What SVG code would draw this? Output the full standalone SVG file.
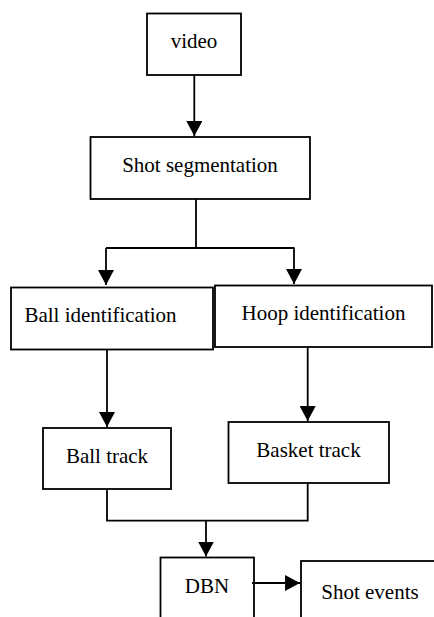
<svg xmlns="http://www.w3.org/2000/svg" width="434" height="617" viewBox="0 0 434 617">
<style>
.box{fill:#fff;stroke:#000;stroke-width:1.8}
.lbl{font-family:"Liberation Serif","Times New Roman",serif;font-size:21px;fill:#000;text-anchor:middle}
.con{fill:none;stroke:#000;stroke-width:1.8}
</style>
<defs>
<marker id="ah" markerUnits="userSpaceOnUse" markerWidth="15" markerHeight="16" viewBox="0 0 14 15" refX="14" refY="7.5" orient="auto">
<path d="M0,0 L14,7.5 L0,15 z" fill="#000"/>
</marker>
</defs>
<rect width="434" height="617" fill="#fff"/>
<g id="video"><rect class="box" x="147" y="13.5" width="94" height="61.5"/><text class="lbl" x="194" y="48">video</text></g>
<g id="shotseg"><rect class="box" x="90.5" y="137" width="219.5" height="62"/><text class="lbl" x="200" y="172">Shot segmentation</text></g>
<g id="ballid"><rect class="box" x="11" y="287.5" width="202" height="62"/><text class="lbl" x="100.5" y="322">Ball identification</text></g>
<g id="hoopid"><rect class="box" x="215" y="285.5" width="217" height="61.5"/><text class="lbl" x="323.5" y="320">Hoop identification</text></g>
<g id="balltrack"><rect class="box" x="43" y="428" width="128" height="61"/><text class="lbl" x="107" y="463">Ball track</text></g>
<g id="baskettrack"><rect class="box" x="228.5" y="422" width="160.5" height="61"/><text class="lbl" x="308.5" y="457">Basket track</text></g>
<g id="dbn"><rect class="box" x="160.5" y="557.5" width="93.5" height="80"/><text class="lbl" x="207" y="593">DBN</text></g>
<g id="shotevents"><rect class="box" x="301" y="561" width="160" height="80"/><text class="lbl" x="370" y="599">Shot events</text></g>
<g id="connectors">
<path class="con" d="M194.3,75 V136" marker-end="url(#ah)"/>
<path class="con" d="M196,199 V248 M106,248 H294.5"/>
<path class="con" d="M106,248 V285" marker-end="url(#ah)"/>
<path class="con" d="M294,248 V284" marker-end="url(#ah)"/>
<path class="con" d="M107,349.5 V427" marker-end="url(#ah)"/>
<path class="con" d="M307.7,347 V421" marker-end="url(#ah)"/>
<path class="con" d="M107,489 V520.7 H307.7 V483"/>
<path class="con" d="M206,520.7 V556.5" marker-end="url(#ah)"/>
<path class="con" d="M252,583 H300" marker-end="url(#ah)"/>
</g>
</svg>
